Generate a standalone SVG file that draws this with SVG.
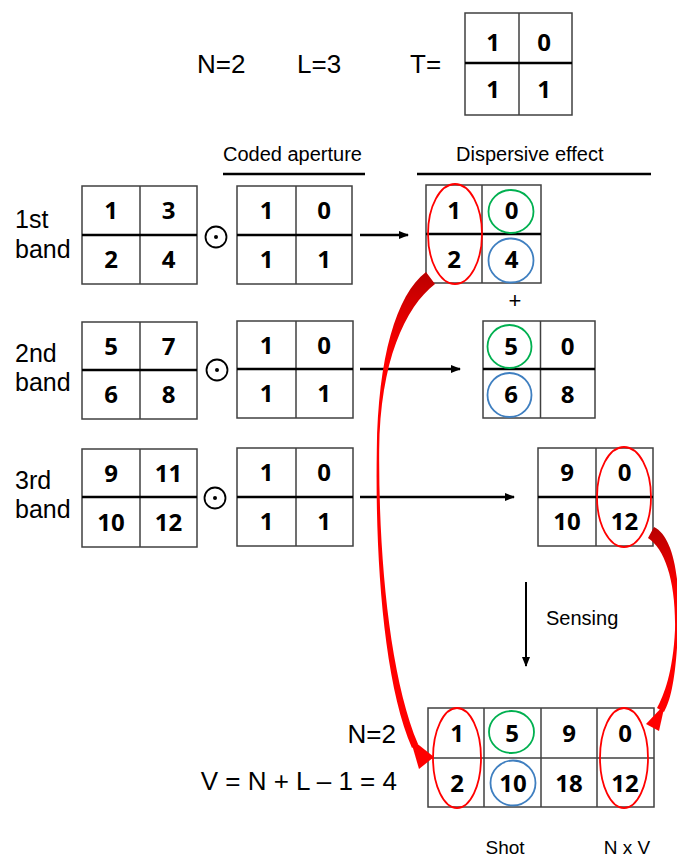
<svg xmlns="http://www.w3.org/2000/svg" width="677" height="859" viewBox="0 0 677 859">
<defs>
<style>
.lbl{font-family:"Liberation Sans",Arial,sans-serif;fill:#000}
.num{font-family:"Open Sans","Noto Sans",sans-serif;font-weight:700;font-size:24px;text-anchor:middle;fill:#000}
.box{fill:#fff;stroke:#404040;stroke-width:1.5}
.vl{stroke:#404040;stroke-width:1.5}
.hl{stroke:#000;stroke-width:2.5}
.thin{stroke:#404040;stroke-width:1.5}
.red{fill:none;stroke:#ff0000;stroke-width:1.8}
.grn{fill:none;stroke:#00b050;stroke-width:1.8}
.blu{fill:none;stroke:#3f7fc0;stroke-width:1.8}
.arr{stroke:#000;stroke-width:2.5;fill:none;marker-end:url(#ah)}
.dot{fill:none;stroke:#000;stroke-width:1.8}
</style>
<marker id="ah" markerUnits="userSpaceOnUse" markerWidth="10" markerHeight="10" viewBox="0 0 10 10" refX="9" refY="5" orient="auto"><path d="M0,1 L10,5 L0,9 Z" fill="#000"/></marker>
<linearGradient id="gl" gradientUnits="userSpaceOnUse" x1="0" y1="270" x2="0" y2="360"><stop offset="0" stop-color="#b80000"/><stop offset="0.5" stop-color="#e00000"/><stop offset="1" stop-color="#ff0000"/></linearGradient>
<linearGradient id="gr" gradientUnits="userSpaceOnUse" x1="0" y1="528" x2="0" y2="590"><stop offset="0" stop-color="#b80000"/><stop offset="1" stop-color="#ff0000"/></linearGradient>
</defs>
<rect width="677" height="859" fill="#fff"/>

<g id="params">
<text class="lbl" x="197" y="73" font-size="26">N=2</text>
<text class="lbl" x="297" y="73" font-size="26">L=3</text>
<text class="lbl" x="410" y="73" font-size="26">T=</text>
</g>
<g id="T">
<rect class="box" x="465" y="13" width="107" height="102"/>
<line class="vl" x1="519" y1="13" x2="519" y2="115"/>
<line class="hl" x1="465" y1="63" x2="572" y2="63"/>
<text class="num" x="493" y="51">1</text><text class="num" x="544" y="51">0</text>
<text class="num" x="493" y="98">1</text><text class="num" x="544" y="98">1</text>
</g>

<g id="headers">
<text class="lbl" x="223" y="161" font-size="20">Coded aperture</text>
<line x1="223" y1="174" x2="365" y2="174" stroke="#000" stroke-width="2.5"/>
<text class="lbl" x="456" y="161" font-size="20">Dispersive effect</text>
<line x1="417" y1="174" x2="651" y2="174" stroke="#000" stroke-width="2.5"/>
</g>

<g id="band1">
<text class="lbl" x="15" y="228" font-size="25">1st</text>
<text class="lbl" x="15" y="258" font-size="25">band</text>
<rect class="box" x="82" y="186" width="115" height="98"/>
<line class="vl" x1="140" y1="186" x2="140" y2="284"/>
<line class="hl" x1="82" y1="235" x2="197" y2="235"/>
<text class="num" x="111" y="219">1</text><text class="num" x="168.5" y="219">3</text>
<text class="num" x="111" y="268">2</text><text class="num" x="168.5" y="268">4</text>
</g>
<g id="odot1"><circle class="dot" cx="216" cy="237" r="10.5"/><circle cx="216" cy="237" r="2" fill="#000"/></g>
<g id="aperture1">
<rect class="box" x="237" y="186" width="115" height="98"/>
<line class="vl" x1="296" y1="186" x2="296" y2="284"/>
<line class="hl" x1="237" y1="235" x2="352" y2="235"/>
<text class="num" x="266.5" y="219">1</text><text class="num" x="324" y="219">0</text>
<text class="num" x="266.5" y="268">1</text><text class="num" x="324" y="268">1</text>
</g>
<g id="disp1">
<rect class="box" x="426" y="185" width="115" height="98"/>
<line class="vl" x1="482" y1="185" x2="482" y2="283"/>
<line class="hl" x1="426" y1="234" x2="541" y2="234"/>
<text class="num" x="454" y="219">1</text><text class="num" x="511.5" y="219">0</text>
<text class="num" x="454" y="268">2</text><text class="num" x="511.5" y="268">4</text>
<ellipse class="red" cx="455" cy="234" rx="27" ry="50"/>
<ellipse class="grn" cx="511" cy="211.5" rx="22.5" ry="21.5"/>
<ellipse class="blu" cx="511" cy="260.5" rx="22.5" ry="22"/>
</g>
<text class="lbl" x="515" y="308" font-size="22" text-anchor="middle">+</text>

<g id="band2">
<text class="lbl" x="15" y="362" font-size="25">2nd</text>
<text class="lbl" x="15" y="391" font-size="25">band</text>
<rect class="box" x="82" y="322" width="115" height="97"/>
<line class="vl" x1="140" y1="322" x2="140" y2="419"/>
<line class="hl" x1="82" y1="370" x2="197" y2="370"/>
<text class="num" x="111" y="355">5</text><text class="num" x="168.5" y="355">7</text>
<text class="num" x="111" y="403">6</text><text class="num" x="168.5" y="403">8</text>
</g>
<g id="odot2"><circle class="dot" cx="217" cy="370" r="10.5"/><circle cx="217" cy="370" r="2" fill="#000"/></g>
<g id="aperture2">
<rect class="box" x="237" y="321" width="116" height="97"/>
<line class="vl" x1="296" y1="321" x2="296" y2="418"/>
<line class="hl" x1="237" y1="369" x2="353" y2="369"/>
<text class="num" x="266.5" y="354">1</text><text class="num" x="324" y="354">0</text>
<text class="num" x="266.5" y="402">1</text><text class="num" x="324" y="402">1</text>
</g>
<g id="disp2">
<rect class="box" x="483" y="321" width="112" height="97"/>
<line class="vl" x1="540.5" y1="321" x2="540.5" y2="418"/>
<line class="hl" x1="483" y1="369" x2="595" y2="369"/>
<text class="num" x="511" y="355">5</text><text class="num" x="567.5" y="355">0</text>
<text class="num" x="511" y="403">6</text><text class="num" x="567.5" y="403">8</text>
<ellipse class="grn" cx="509.5" cy="346.5" rx="22" ry="21.5"/>
<ellipse class="blu" cx="509.5" cy="395" rx="22" ry="22"/>
</g>

<g id="band3">
<text class="lbl" x="15" y="489" font-size="25">3rd</text>
<text class="lbl" x="15" y="518" font-size="25">band</text>
<rect class="box" x="82" y="449" width="115" height="98"/>
<line class="vl" x1="140" y1="449" x2="140" y2="547"/>
<line class="hl" x1="82" y1="497" x2="197" y2="497"/>
<text class="num" x="111" y="482">9</text><text class="num" x="168.5" y="482">11</text>
<text class="num" x="111" y="531">10</text><text class="num" x="168.5" y="531">12</text>
</g>
<g id="odot3"><circle class="dot" cx="215" cy="498" r="10.5"/><circle cx="215" cy="498" r="2" fill="#000"/></g>
<g id="aperture3">
<rect class="box" x="237" y="448" width="116" height="98"/>
<line class="vl" x1="296" y1="448" x2="296" y2="546"/>
<line class="hl" x1="237" y1="497" x2="353" y2="497"/>
<text class="num" x="266.5" y="481">1</text><text class="num" x="324" y="481">0</text>
<text class="num" x="266.5" y="530">1</text><text class="num" x="324" y="530">1</text>
</g>
<g id="disp3">
<rect class="box" x="538" y="448" width="115" height="98"/>
<line class="vl" x1="596" y1="448" x2="596" y2="546"/>
<line class="hl" x1="538" y1="497" x2="653" y2="497"/>
<text class="num" x="567" y="481">9</text><text class="num" x="624.5" y="481">0</text>
<text class="num" x="567" y="530">10</text><text class="num" x="624.5" y="530">12</text>
<ellipse class="red" cx="624" cy="497" rx="27" ry="50"/>
</g>

<g id="sensing">
<text class="lbl" x="546" y="625" font-size="20">Sensing</text>
</g>

<g id="result">
<text class="lbl" x="396" y="743" font-size="26" text-anchor="end">N=2</text>
<text class="lbl" x="397" y="790" font-size="26" text-anchor="end">V = N + L – 1 = 4</text>
<rect class="box" x="428" y="708" width="226" height="99"/>
<line class="thin" x1="484" y1="708" x2="484" y2="807"/>
<line class="thin" x1="541" y1="708" x2="541" y2="807"/>
<line class="thin" x1="597" y1="708" x2="597" y2="807"/>
<line class="thin" x1="428" y1="758" x2="654" y2="758"/>
<text class="num" x="457" y="742">1</text><text class="num" x="512" y="742">5</text><text class="num" x="569" y="742">9</text><text class="num" x="625" y="742">0</text>
<text class="num" x="457" y="792">2</text><text class="num" x="513" y="792">10</text><text class="num" x="569" y="792">18</text><text class="num" x="625" y="792">12</text>
<ellipse class="red" cx="457" cy="758" rx="24" ry="50"/>
<ellipse class="grn" cx="511.5" cy="732" rx="22.5" ry="21"/>
<ellipse class="blu" cx="513" cy="783" rx="22.5" ry="22.5"/>
<ellipse class="red" cx="624" cy="758" rx="24" ry="50"/>
<text class="lbl" x="505" y="854" font-size="19" text-anchor="middle">Shot</text>
<text class="lbl" x="627" y="854" font-size="19" text-anchor="middle">N x V</text>
</g>

<g id="connectors">
<line class="arr" x1="360" y1="235" x2="408" y2="235"/>
<line class="arr" x1="360" y1="369" x2="460" y2="369"/>
<line class="arr" x1="360" y1="497" x2="514" y2="497"/>
<line x1="526" y1="582" x2="526" y2="666" stroke="#000" stroke-width="2" marker-end="url(#ah)"/>
<path d="M426,272 C396,295 378,358 376.8,450 C375,560 384,684 412,748 L418,744 C390,678 378.5,558 379.2,450 C380,362 405,307 435,284 Z" fill="url(#gl)"/>
<polygon points="410,738 419,769 434,757" fill="#ff0000"/>
<path d="M654,527 C673,536 681,578 678,630 C676,676 671,700 664,712 L657,708 C664,695 673,672 675,630 C676,582 665,549 648,538 Z" fill="url(#gr)"/>
<polygon points="665,704 659,731 646,724" fill="#ff0000"/>
</g>
</svg>
